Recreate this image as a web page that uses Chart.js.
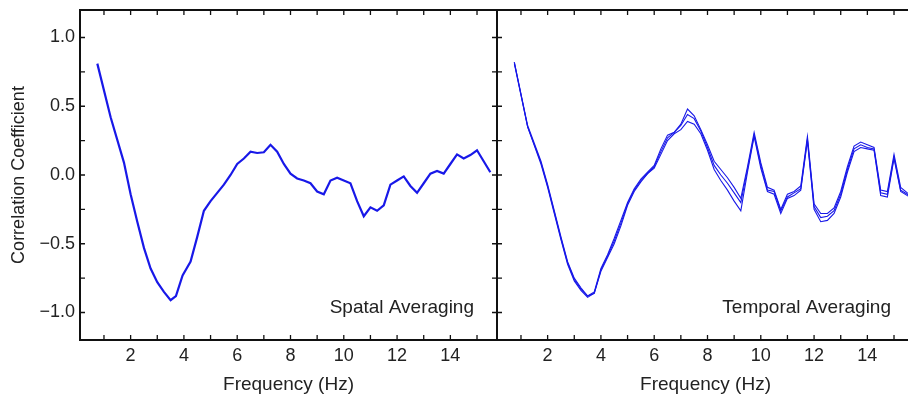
<!DOCTYPE html>
<html>
<head>
<meta charset="utf-8">
<script src="https://cdn.jsdelivr.net/npm/chart.js@4.4.1/dist/chart.umd.min.js"></script>
<style>
  html, body { margin: 0; padding: 0; background: #fff; overflow: hidden; width: 908px; height: 399px; }
  .panel { position: absolute; top: 0; }
</style>
</head>
<body>
<div class="panel" style="left:0"><canvas id="spatial" width="500" height="399"></canvas></div>
<div class="panel" style="left:494px"><canvas id="temporal" width="425" height="399"></canvas></div>
<script>
// 频率轴 (Hz)
const freqLeft = [0.75, 1.25, 1.75, 2.0, 2.25, 2.5, 2.75, 3.0, 3.25, 3.5, 3.7, 3.95,
    4.25, 4.5, 4.75, 5.0, 5.25, 5.5, 5.75, 6.0, 6.25, 6.5, 6.75, 7.0, 7.25, 7.5, 7.75,
    8.0, 8.25, 8.5, 8.75, 9.0, 9.25, 9.5, 9.75, 10.0, 10.25, 10.5, 10.75, 11.0, 11.25,
    11.5, 11.75, 12.0, 12.25, 12.5, 12.75, 13.0, 13.25, 13.5, 13.75, 14.0, 14.25, 14.5,
    14.75, 15.0, 15.25, 15.5];
const spatialAvg = [0.81, 0.42, 0.09, -0.14, -0.34, -0.53, -0.68, -0.78, -0.85, -0.91, -0.88, -0.73,
    -0.63, -0.45, -0.26, -0.19, -0.13, -0.07, 0.0, 0.08, 0.12, 0.17, 0.16, 0.165, 0.22, 0.17, 0.08,
    0.01, -0.025, -0.04, -0.06, -0.12, -0.14, -0.04, -0.02, -0.04, -0.06, -0.19, -0.30, -0.235, -0.26,
    -0.22, -0.07, -0.04, -0.01, -0.08, -0.13, -0.06, 0.01, 0.03, 0.01, 0.08, 0.15, 0.12,
    0.145, 0.18, 0.10, 0.02];

const freqRight = [0.75, 1.25, 1.75, 2.0, 2.25, 2.5, 2.75, 3.0, 3.25, 3.5, 3.75, 4.0, 4.25, 4.5,
    4.75, 5.0, 5.25, 5.5, 5.75, 6.0, 6.25, 6.5, 6.75, 7.0, 7.25, 7.5, 7.75, 8.0, 8.25, 8.5,
    8.75, 9.0, 9.25, 9.5, 9.75, 10.0, 10.25, 10.5, 10.75, 11.0, 11.25, 11.5, 11.75, 12.0,
    12.25, 12.5, 12.75, 13.0, 13.25, 13.5, 13.75, 14.0, 14.25, 14.5, 14.75, 15.0, 15.25,
    15.5, 15.75];
const temporalA = [0.82, 0.36, 0.10, -0.07, -0.26, -0.45, -0.63, -0.75, -0.82, -0.88, -0.85, -0.68, -0.58, -0.46,
    -0.33, -0.20, -0.10, -0.03, 0.02, 0.07, 0.19, 0.29, 0.31, 0.37, 0.48, 0.43, 0.33, 0.22, 0.10, 0.04,
    -0.02, -0.09, -0.17, 0.06, 0.31, 0.09, -0.09, -0.11, -0.25, -0.14, -0.12, -0.08, 0.28, -0.21,
    -0.28, -0.28, -0.24, -0.12, 0.06, 0.21, 0.24, 0.22, 0.20, -0.11, -0.12, 0.15, -0.09,
    -0.13, -0.16];
const temporalB = [0.82, 0.35, 0.09, -0.08, -0.27, -0.46, -0.64, -0.76, -0.83, -0.88, -0.86, -0.69, -0.59, -0.48,
    -0.35, -0.21, -0.11, -0.04, 0.01, 0.06, 0.17, 0.27, 0.31, 0.36, 0.44, 0.41, 0.32, 0.20, 0.07, 0.00,
    -0.06, -0.13, -0.20, 0.04, 0.29, 0.07, -0.11, -0.12, -0.26, -0.16, -0.13, -0.10, 0.26, -0.23,
    -0.31, -0.30, -0.26, -0.14, 0.04, 0.19, 0.22, 0.20, 0.19, -0.13, -0.14, 0.13, -0.11,
    -0.14, -0.17];
const temporalC = [0.81, 0.35, 0.08, -0.09, -0.28, -0.47, -0.65, -0.77, -0.84, -0.89, -0.86, -0.70, -0.60, -0.50,
    -0.37, -0.22, -0.12, -0.05, 0.01, 0.05, 0.15, 0.25, 0.30, 0.33, 0.39, 0.37, 0.30, 0.18, 0.04, -0.04,
    -0.11, -0.19, -0.26, 0.02, 0.28, 0.05, -0.12, -0.14, -0.28, -0.17, -0.15, -0.11, 0.25, -0.25,
    -0.34, -0.33, -0.28, -0.16, 0.02, 0.17, 0.20, 0.19, 0.18, -0.15, -0.16, 0.12, -0.12,
    -0.15, -0.18];

// 刻度
const xTickLabels = [2, 4, 6, 8, 10, 12, 14];
const xMinorTicks = [1, 2, 3, 4, 5, 6, 7, 8, 9, 10, 11, 12, 13, 14, 15];
const yTickLabels = [-1.0, -0.5, 0.0, 0.5, 1.0];
const yMinorTicks = [-1.0, -0.75, -0.5, -0.25, 0.0, 0.25, 0.5, 0.75, 1.0];

const LINE_BLUE = '#1818e8';
const TEXT = '#222';
Chart.defaults.font.family = "'Liberation Sans', Arial, sans-serif";
Chart.defaults.color = TEXT;

const toPoints = (xs, ys) => xs.map((x, i) => ({ x: x, y: ys[i] }));

// 画边框 + 向内刻度 + 右下角标注
const framePlugin = {
    id: 'frame',
    afterDraw(chart, args, opts) {
        const { ctx, chartArea: a, scales } = chart;
        const x = scales.x, y = scales.y;
        ctx.save();
        ctx.strokeStyle = '#111';
        ctx.lineWidth = 2;
        ctx.strokeRect(a.left, a.top, a.right - a.left, a.bottom - a.top);
        ctx.lineWidth = 1.3;
        ctx.beginPath();
        xMinorTicks.forEach(v => {
            const px = x.getPixelForValue(v);
            ctx.moveTo(px, a.top); ctx.lineTo(px, a.top + 5);
            ctx.moveTo(px, a.bottom); ctx.lineTo(px, a.bottom - 5);
        });
        yMinorTicks.forEach(v => {
            const py = y.getPixelForValue(v);
            ctx.moveTo(a.left, py); ctx.lineTo(a.left + 5, py);
            ctx.moveTo(a.right, py); ctx.lineTo(a.right - 5, py);
        });
        ctx.stroke();
        ctx.fillStyle = TEXT;
        ctx.font = "19px 'Liberation Sans', Arial, sans-serif";
        ctx.textAlign = 'right';
        ctx.textBaseline = 'alphabetic';
        ctx.fillText(opts.label, a.right - 23, a.bottom - 27);
        ctx.restore();
    }
};

function makeChart(id, datasets, label, showY, yWidth) {
    return new Chart(document.getElementById(id), {
        type: 'line',
        data: { datasets: datasets },
        options: {
            responsive: false,
            animation: false,
            layout: { padding: { top: 10, right: showY ? 3 : 5, left: 0, bottom: 0 } },
            plugins: {
                legend: { display: false },
                tooltip: { enabled: false },
                frame: { label: label }
            },
            elements: { point: { radius: 0 }, line: { tension: 0 } },
            scales: {
                x: {
                    type: 'linear',
                    min: 0.1,
                    max: 15.75,
                    grid: { display: false, drawTicks: false },
                    border: { display: false },
                    afterBuildTicks: s => { s.ticks = xTickLabels.map(v => ({ value: v })); },
                    afterFit: s => { s.height = 59; s.paddingLeft = 0; s.paddingRight = 0; },
                    ticks: { font: { size: 18 }, padding: 5, maxRotation: 0, callback: v => String(v) },
                    title: { display: true, text: 'Frequency (Hz)', font: { size: 19 }, padding: { top: 0, bottom: 3 } }
                },
                y: {
                    min: -1.2,
                    max: 1.2,
                    grid: { display: false, drawTicks: false },
                    border: { display: false },
                    afterBuildTicks: s => { s.ticks = yTickLabels.map(v => ({ value: v })); },
                    // 刻度标签离边很远，不需要额外的上下留白
                    afterFit: s => { s.width = yWidth; s.paddingTop = 0; s.paddingBottom = 0; },
                    ticks: {
                        display: showY,
                        font: { size: 18 },
                        padding: 5,
                        callback: v => (v < 0 ? '\u2212' : '') + Math.abs(v).toFixed(1)
                    },
                    title: { display: showY, text: 'Correlation Coefficient', font: { size: 18 }, padding: { top: 8, bottom: 0 } }
                }
            }
        },
        plugins: [framePlugin]
    });
}

makeChart('spatial', [{
    data: toPoints(freqLeft, spatialAvg),
    borderColor: LINE_BLUE,
    borderWidth: 2.2
}], 'Spatal Averaging', true, 80);

makeChart('temporal', [temporalA, temporalB, temporalC].map(vals => ({
    data: toPoints(freqRight, vals),
    borderColor: LINE_BLUE,
    borderWidth: 1.1
})), 'Temporal Averaging', false, 3);
</script>
</body>
</html>
